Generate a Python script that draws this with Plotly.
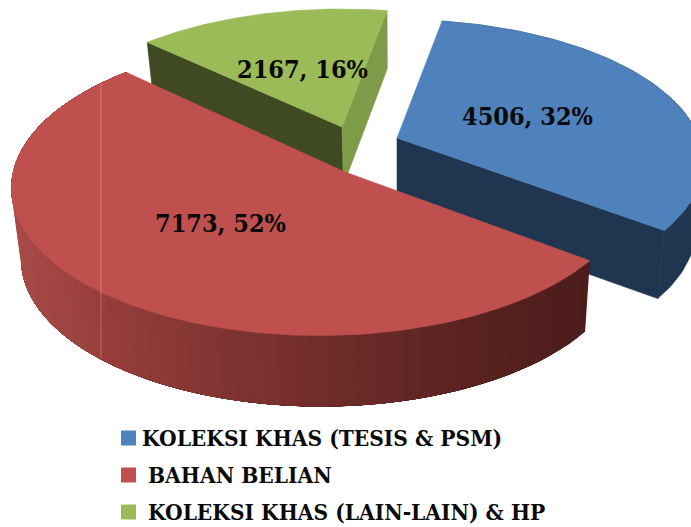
import math
import plotly.graph_objects as go

categories = ["KOLEKSI KHAS (TESIS & PSM)", "BAHAN BELIAN", "KOLEKSI KHAS (LAIN-LAIN) & HP"]
values = [4506, 7173, 2167]
percent_labels = [32, 52, 16]
colors = ["#4F81BD", "#C0504D", "#9BBB59"]

W, H = 691, 527
START = -80.0
VX = 400.0
FSHRINK = 0.975
# per-slice view geometry of the tilted, exploded disc
GEOM = [
    dict(ax=397, ay=138, R=302, b=138, q=0.165, r=0.0, depth=68),
    dict(ax=345, ay=172, R=307, b=146.7, q=0.10, r=0.075, depth=71),
    dict(ax=342, ay=127, R=296, b=135, q=0.144, r=0.0, depth=58),
]

total = sum(values)
spans = []
a = START
for v in values:
    d = v / total * 360
    spans.append((a, a + d))
    a += d


def top(i, th):
    g = GEOM[i]
    t = math.radians(th)
    X, Z = math.cos(t), math.sin(t)
    s = 1 / (1 - g["q"] * Z + g["r"] * X)
    return g["ax"] + g["R"] * X * s, g["ay"] + g["b"] * Z * s


def down(i, p):
    return VX + (p[0] - VX) * FSHRINK, p[1] + GEOM[i]["depth"]


def arc(i, a0, a1, n=80):
    return [top(i, a0 + (a1 - a0) * k / n) for k in range(n + 1)]


def apex(i):
    return GEOM[i]["ax"], GEOM[i]["ay"]


fig = go.Figure()


def poly(pts, color, name=None, lw=0.6):
    xs = [p[0] for p in pts] + [pts[0][0]]
    ys = [p[1] for p in pts] + [pts[0][1]]
    fig.add_trace(go.Scatter(x=xs, y=ys, mode="lines", fill="toself", fillcolor=color,
                             line=dict(color=color, width=lw), hoverinfo="skip",
                             showlegend=False, name=name))


def radial_wall(i, th, color):
    p0, p1 = apex(i), top(i, th)
    poly([p0, p1, down(i, p1), down(i, p0)], color)


def outer_wall(i, a0, a1, color):
    rim = arc(i, a0, a1)
    poly(rim + [down(i, p) for p in reversed(rim)], color)


def mix(stops, x):
    for (x0, c0), (x1, c1) in zip(stops, stops[1:]):
        if x <= x1:
            f = max(0, (x - x0) / (x1 - x0))
            return "rgb(%d,%d,%d)" % tuple(round(u + (w - u) * f) for u, w in zip(c0, c1))
    return "rgb(%d,%d,%d)" % stops[-1][1]


# blue slice
b0, b1 = spans[0]
outer_wall(0, b0, b1, "#1F3550")
radial_wall(0, b1, "#1F3550")
poly([apex(0)] + arc(0, b0, b1), colors[0], categories[0])

# green slice
g0, g1 = spans[2]
radial_wall(2, g0, "#3F4A23")
radial_wall(2, g1, "#7F9A48")
poly([apex(2)] + arc(2, g0, g1), colors[2], categories[2])

# red slice: shaded outer wall (painted right to left, each band running on to the far end), then top
r0, r1 = spans[1]
stops = [(10, (168, 75, 72)), (100, (152, 63, 60)), (200, (133, 54, 52)),
         (330, (112, 45, 43)), (480, (88, 34, 32)), (595, (76, 29, 27))]
N = 70
for k in range(N):
    a0 = r0 + (r1 - r0) * k / N
    rim = arc(1, a0, r1, 60)
    poly(rim + [down(1, p) for p in reversed(rim)], mix(stops, rim[0][0]), lw=0)
poly([apex(1)] + arc(1, r0, r1, 160), colors[1], categories[1])

# legend swatches
legend_y = [438, 475, 512]
legend_text_x = [142, 148, 148]
fig.add_trace(go.Scatter(x=[128.5] * 3, y=legend_y, mode="markers", showlegend=False, hoverinfo="skip",
                         marker=dict(symbol="square", size=15, color=colors, line=dict(width=0))))

FONT = "DejaVu Serif Condensed"
legend_text_x = [x - 2 for x in legend_text_x]
for c, y, x in zip(categories, legend_y, legend_text_x):
    fig.add_annotation(x=x, y=y, text="<b>%s</b>" % c, showarrow=False, xanchor="left", yanchor="middle",
                       font=dict(family=FONT, size=22.5, color="#0a0a0a"))

label_pos = [(527, 116), (220, 223), (302, 69)]
for v, p, (x, y) in zip(values, percent_labels, label_pos):
    fig.add_annotation(x=x, y=y, text="<b>%d, %d%%</b>" % (v, p), showarrow=False,
                       font=dict(family=FONT, size=25, color="#0a0a0a"))

# faint vertical seam across the red slice
fig.add_shape(type="line", x0=101, x1=101, y0=83, y1=358,
              line=dict(color="rgba(255,255,255,0.28)", width=1))

fig.update_layout(width=W, height=H, margin=dict(l=0, r=0, t=0, b=0), paper_bgcolor="white",
                  plot_bgcolor="white", showlegend=False,
                  xaxis=dict(range=[0, W], visible=False, fixedrange=True),
                  yaxis=dict(range=[H, 0], visible=False, fixedrange=True))
fig.write_html("out.html", config={"displayModeBar": False},
               post_script="document.body.style.margin='0';document.documentElement.style.overflow='hidden';")
